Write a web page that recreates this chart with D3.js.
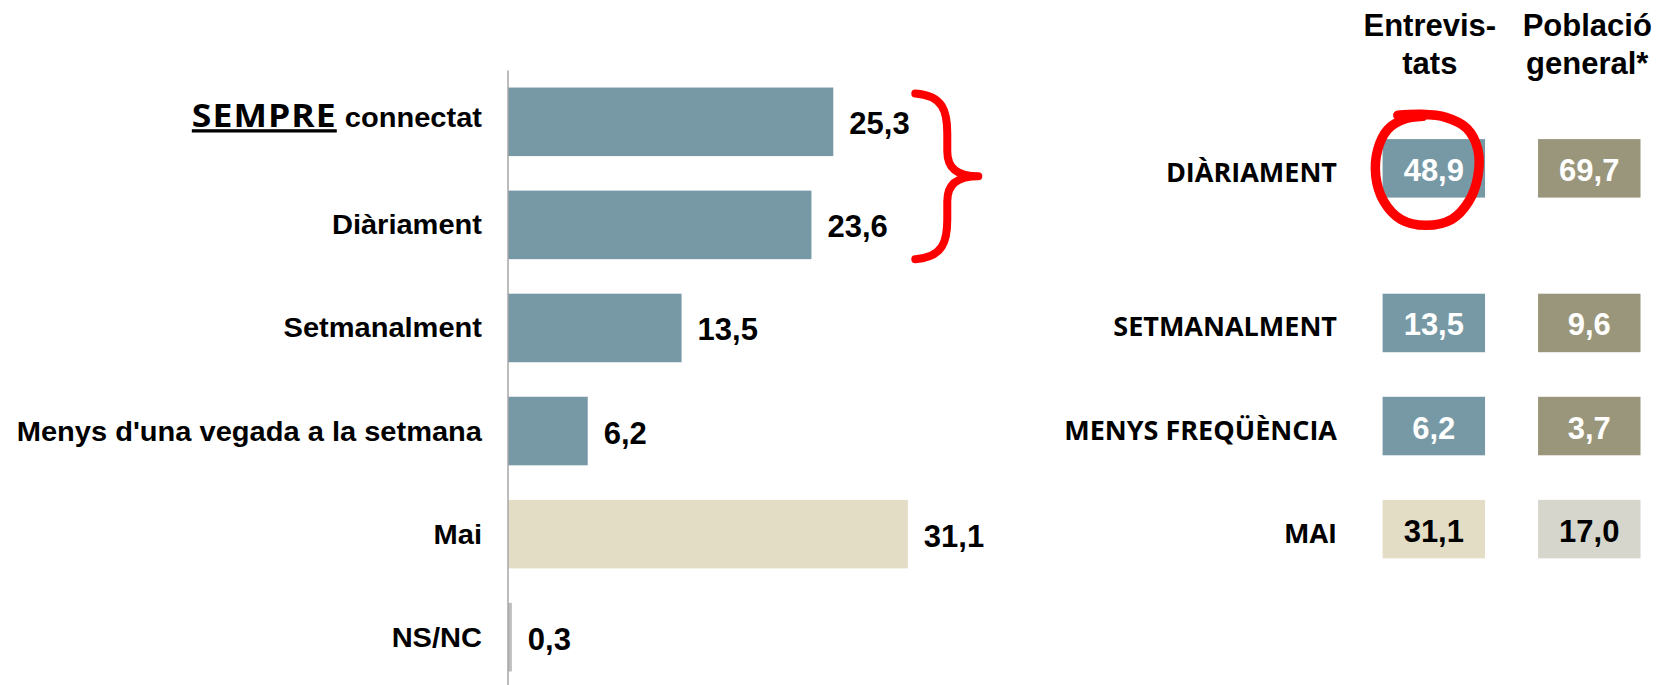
<!DOCTYPE html>
<html>
<head>
<meta charset="utf-8">
<script src="https://cdn.jsdelivr.net/npm/d3@7"></script>
<style>
  html, body { margin: 0; padding: 0; background: #ffffff; }
  svg { display: block; }
</style>
</head>
<body>
<script>
// ---------- data ----------
const categories = ["SEMPRE connectat", "Diàriament", "Setmanalment", "Menys d'una vegada a la setmana", "Mai", "NS/NC"];
const values = [25.3, 23.6, 13.5, 6.2, 31.1, 0.3];

const groupLabels = ["DIÀRIAMENT", "SETMANALMENT", "MENYS FREQÜÈNCIA", "MAI"];
const groupMembers = [["SEMPRE connectat", "Diàriament"], ["Setmanalment"], ["Menys d'una vegada a la setmana"], ["Mai"]];
const entrevistats = [48.9, 13.5, 6.2, 31.1];
const poblacio = [69.7, 9.6, 3.7, 17.0];
const columnKeys = ["Entrevistats", "Poblacio"];
const columnHeaders = [["Entrevis-", "tats"], ["Població", "general*"]];

// ---------- setup ----------
const W = 1673, H = 685;
const svg = d3.select("body").append("svg").attr("width", W).attr("height", H);

const fmt = d3.formatLocale({decimal: ",", thousands: ".", grouping: [3], currency: ["", "€"]}).format(".1f");
const ARIAL = "'Liberation Sans', Arial, sans-serif";
const CALIBRI = "'Open Sans', 'Noto Sans', sans-serif";

const x = d3.scaleLinear().domain([0, 35]).range([508, 958]);
const y = d3.scaleBand().domain(categories).range([53, 706]).padding(0.335);

const barColor = d3.scaleOrdinal().domain(categories)
  .range(["#7799A5", "#7799A5", "#7799A5", "#7799A5", "#E3DDC5", "#BDBDBD"]);

// ---------- left bar chart ----------
svg.append("g").selectAll("rect").data(categories).join("rect")
  .attr("x", x(0))
  .attr("y", d => y(d))
  .attr("width", (d, i) => x(values[i]) - x(0))
  .attr("height", y.bandwidth())
  .attr("fill", d => barColor(d));

// axis line
svg.append("line")
  .attr("x1", x(0)).attr("x2", x(0))
  .attr("y1", y(categories[0]) - 17).attr("y2", H)
  .attr("stroke", "#A6A6A6").attr("stroke-width", 1.5);

// value labels
svg.append("g").selectAll("text").data(categories).join("text")
  .attr("x", (d, i) => x(values[i]) + 16)
  .attr("y", d => y(d) + y.bandwidth() / 2 + 12.5)
  .attr("font-family", ARIAL).attr("font-weight", "bold").attr("font-size", 31)
  .attr("fill", "#000")
  .text((d, i) => fmt(values[i]));

// category labels (slightly stretched horizontally, as in the original)
const labelG = svg.append("g");
categories.forEach((c, i) => {
  const cy = y(c) + y.bandwidth() / 2;
  const t = labelG.append("text")
    .attr("transform", `translate(482,${cy + (i === 0 ? 5.5 : 9.5)}) scale(1.076,1)`)
    .attr("text-anchor", "end")
    .attr("font-family", ARIAL).attr("font-weight", "bold").attr("font-size", 27)
    .attr("fill", "#000");
  if (i === 0) {
    t.append("tspan").attr("font-family", CALIBRI).attr("font-weight", 700).attr("font-size", 33)
      .attr("letter-spacing", 1)
      .style("text-decoration", "underline").text("SEMPRE");
    t.append("tspan").text(" connectat");
  } else {
    t.text(c);
  }
});

// brace around the first two bars
{
  const top = y(categories[0]) + 6;
  const bot = y(categories[1]) + y.bandwidth();
  const mid = (top + bot) / 2;
  const x0 = x(values[0]) + 82;
  const xm = x0 + 32, xt = x0 + 63;
  const p = d3.path();
  p.moveTo(x0, top);
  p.bezierCurveTo(xm - 4, top + 2, xm, top + 18, xm, top + 40);
  p.lineTo(xm, mid - 25);
  p.bezierCurveTo(xm, mid - 8, xm + 10, mid, xt, mid);
  p.bezierCurveTo(xm + 10, mid, xm, mid + 8, xm, mid + 25);
  p.lineTo(xm, bot - 40);
  p.bezierCurveTo(xm, bot - 18, xm - 4, bot - 2, x0, bot);
  svg.append("path").attr("d", p.toString())
    .attr("fill", "none").attr("stroke", "#FF0000").attr("stroke-width", 8)
    .attr("stroke-linecap", "round").attr("stroke-linejoin", "round");
}

// ---------- right summary table ----------
const col = d3.scaleBand().domain(columnKeys).range([1382.6, 1640.5]).paddingInner(0.341).paddingOuter(0);
const rowY = groupMembers.map(m => d3.mean(m, c => y(c) + y.bandwidth() / 2) - 5);
const boxH = 58.5;

const colColors = [
  ["#7799A5", "#7799A5", "#7799A5", "#E3DDC5"],
  ["#9A967B", "#9A967B", "#9A967B", "#D6D6CC"]
];
const textColors = ["#FFFFFF", "#FFFFFF", "#FFFFFF", "#000000"];
const colValues = [entrevistats, poblacio];

// headers
columnKeys.forEach((k, j) => {
  const cx = col(k) + col.bandwidth() / 2;
  columnHeaders[j].forEach((line, li) => {
    svg.append("text")
      .attr("x", cx - (j === 0 ? 4 : 2)).attr("y", 36 + li * 38)
      .attr("text-anchor", "middle")
      .attr("font-family", ARIAL).attr("font-weight", "bold").attr("font-size", 31)
      .attr("fill", "#000").text(line);
  });
});

// row labels
svg.append("g").selectAll("text").data(groupLabels).join("text")
  .attr("x", 1337)
  .attr("y", (d, i) => rowY[i] + 13.5)
  .attr("text-anchor", "end")
  .attr("font-family", CALIBRI).attr("font-weight", 700).attr("font-size", 27)
  .attr("fill", "#000").text(d => d);

// boxes and values
columnKeys.forEach((k, j) => {
  const g = svg.append("g");
  g.selectAll("rect").data(groupLabels).join("rect")
    .attr("x", col(k)).attr("width", col.bandwidth())
    .attr("y", (d, i) => rowY[i] - boxH / 2).attr("height", boxH)
    .attr("fill", (d, i) => colColors[j][i]);
  g.selectAll("text").data(groupLabels).join("text")
    .attr("x", col(k) + col.bandwidth() / 2)
    .attr("y", (d, i) => rowY[i] + 12.5)
    .attr("text-anchor", "middle")
    .attr("font-family", ARIAL).attr("font-weight", "bold").attr("font-size", 31)
    .attr("fill", (d, i) => textColors[i])
    .text((d, i) => fmt(colValues[j][i]));
});

// hand-drawn red circle around the first "Entrevistats" value
{
  const cx = col(columnKeys[0]) + col.bandwidth() / 2 - 7;
  const cy = rowY[0] + 2;
  const pts = [
    [-29, -55], [-6, -56], [19, -53], [40, -42], [51, -21], [51, 6], [42, 31],
    [25, 49], [-1, 55], [-26, 49], [-43, 31], [-51, 6], [-49, -21], [-39, -41],
    [-23, -51], [-4, -54]
  ];
  const line = d3.line().curve(d3.curveCatmullRom.alpha(0.5))
    .x(d => cx + d[0]).y(d => cy + d[1]);
  svg.append("path").attr("d", line(pts))
    .attr("fill", "none").attr("stroke", "#FF0000").attr("stroke-width", 9.5)
    .attr("stroke-linecap", "round").attr("stroke-linejoin", "round");
}
</script>
</body>
</html>
